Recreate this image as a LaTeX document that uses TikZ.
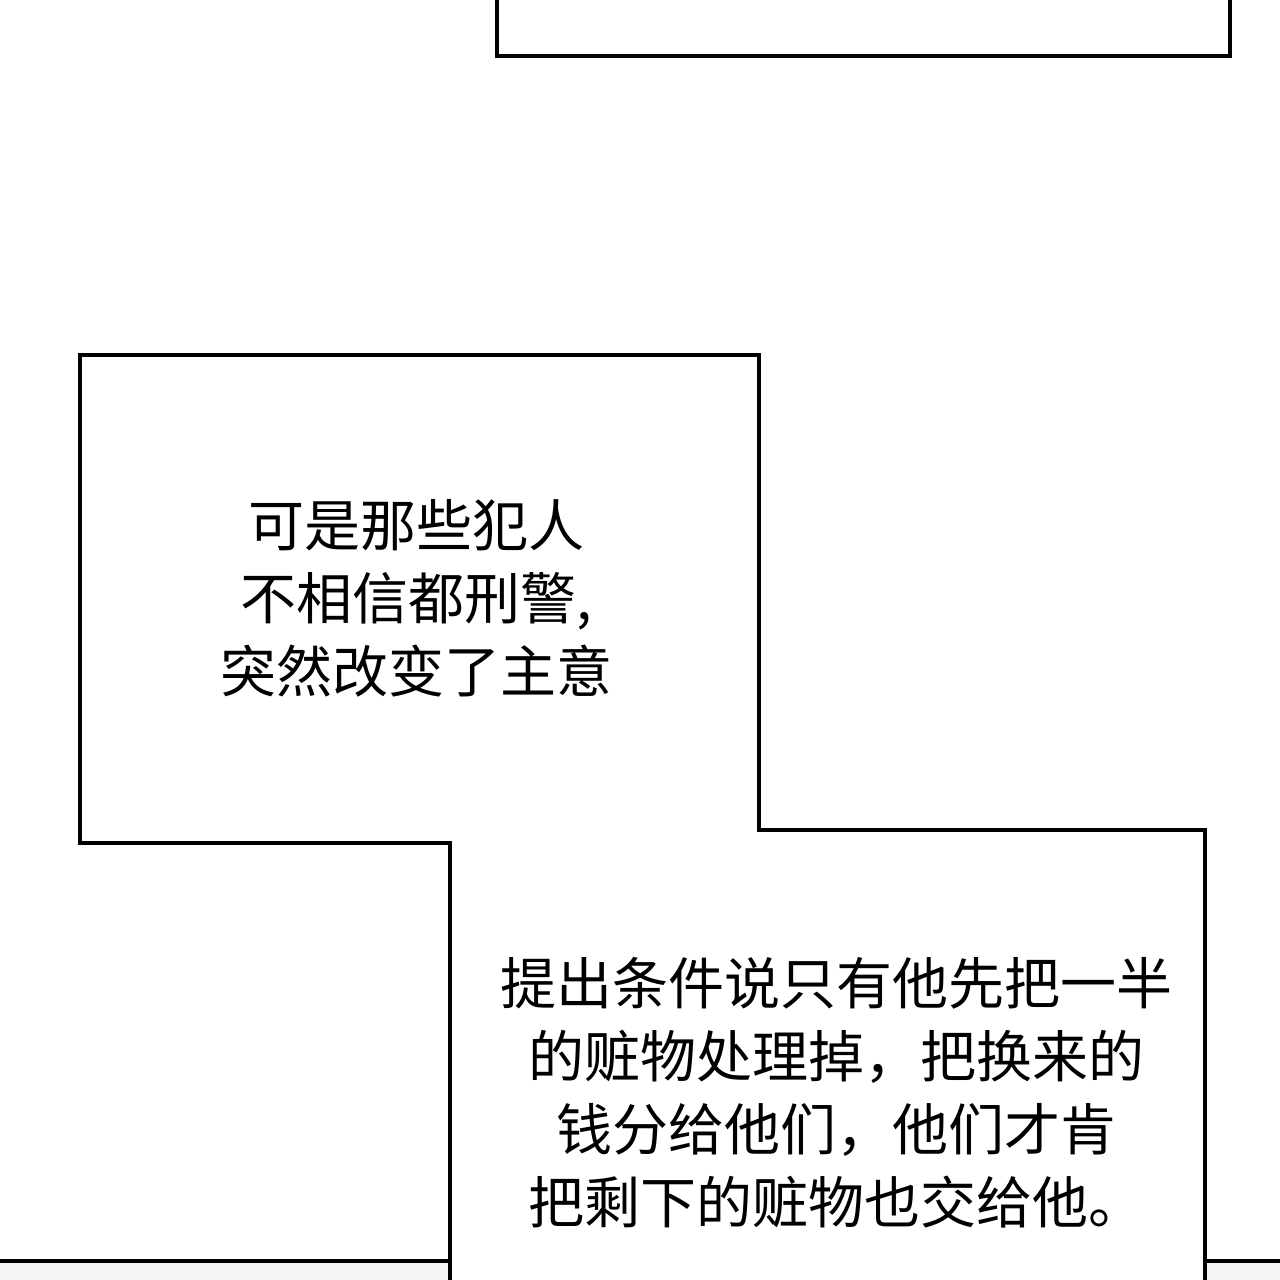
\documentclass[tikz,border=0pt]{standalone}
\usepackage{fontspec}
\newfontfamily\cjk{Noto Sans CJK SC}
\begin{document}
\begin{tikzpicture}[x=1pt,y=-1pt,
  panel/.style={line width=4pt, fill=white},
  bubbletext/.style={font=\cjk\fontsize{56}{73}\selectfont, align=center, text=black}]
  \useasboundingbox (0,0) rectangle (1280,1280);
  % floor strip
  \fill[gray!8] (0,1261) rectangle (1280,1280);
  \draw[line width=4pt] (0,1261) -- (1280,1261);
  % top box
  \draw[panel] (497,-10) rectangle (1230,56);
  % stepped boxes
  \draw[panel] (450,1290) -- (450,843) -- (80,843) -- (80,355) -- (759,355)
    -- (759,830) -- (1205,830) -- (1205,1290);
  \node[bubbletext] (upper) at (416,598) {可是那些犯人\\不相信都刑警,\\突然改变了主意};
  \node[bubbletext] (lower) at (836,1093) {提出条件说只有他先把一半\\的赃物处理掉，把换来的\\钱分给他们，他们才肯\\把剩下的赃物也交给他。};
\end{tikzpicture}
\end{document}
